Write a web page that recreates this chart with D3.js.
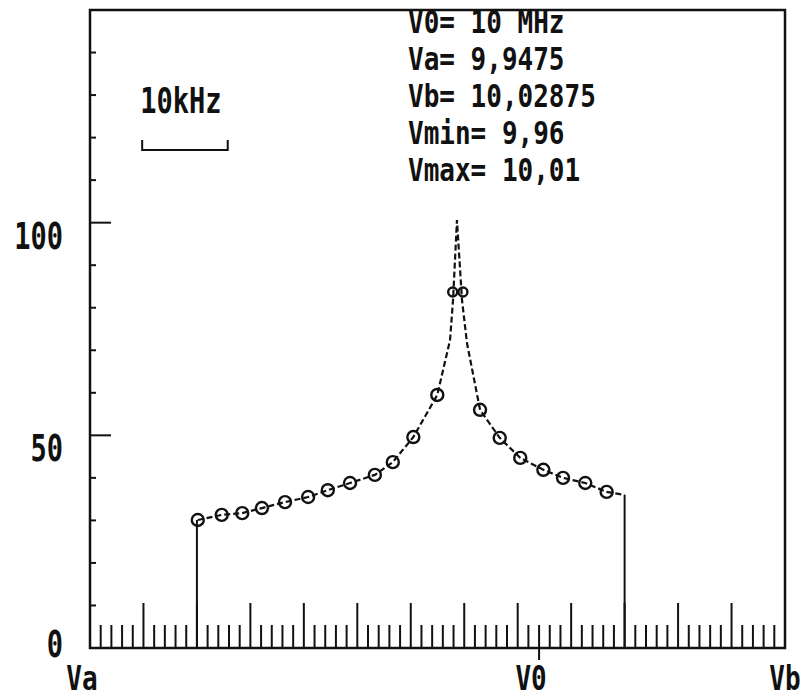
<!DOCTYPE html>
<html>
<head>
<meta charset="utf-8">
<script src="https://cdn.jsdelivr.net/npm/d3@7"></script>
<style>
  body { margin: 0; background: #fff; }
  svg text { font-family: "DejaVu Sans Mono", monospace; font-weight: bold; fill: #111; }
</style>
</head>
<body>
<div id="chart"></div>
<script>
// frequency span (MHz) and value span
const fRange = [9.9475, 10.02875];
const vRange = [0, 150];
const fMin = 9.96, fMax = 10.01, f0 = 10;

// y axis ticks / labels
const yTicks = [0, 10, 20, 30, 40, 50, 60, 70, 80, 90, 100, 110, 120, 130, 140, 150];
const yLabels = [0, 50, 100];

// measured points (circles)
const markFreq = [9.9601, 9.9629, 9.9653, 9.9676, 9.9703, 9.9730, 9.9753, 9.9779, 9.9808, 9.9829, 9.9853, 9.9881,
                  9.9899, 9.9911,
                  9.9931, 9.9954, 9.9978, 10.0005, 10.0028, 10.0054, 10.0079];
const markVal = [30.1, 31.3, 31.7, 32.9, 34.3, 35.5, 37.1, 38.8, 40.7, 43.7, 49.6, 59.5,
                 83.7, 83.7,
                 56.0, 49.4, 44.7, 41.9, 40.0, 38.8, 36.7];

// theory curve (dashed)
const curveFreq = [9.9601, 9.9629, 9.9653, 9.9676, 9.9703, 9.9730, 9.9753, 9.9779, 9.9808, 9.9829, 9.9853, 9.9881,
                   9.98959, 9.98994, 9.9904, 9.99099, 9.99157,
                   9.9931, 9.9954, 9.9978, 10.0005, 10.0028, 10.0054, 10.0079, 10.01];
const curveVal = [30.1, 31.3, 31.7, 32.9, 34.3, 35.5, 37.1, 38.8, 40.7, 43.7, 49.6, 59.5,
                  72.4, 81.8, 100.6, 81.8, 71.7,
                  56.0, 49.4, 44.7, 41.9, 40.0, 38.8, 36.7, 36.0];

const infoLines = ["V0= 10 MHz", "Va= 9,9475", "Vb= 10,02875", "Vmin= 9,96", "Vmax= 10,01"];
const xLabels = [
  { f: 9.9475, text: "Va" },
  { f: 10, text: "V0" },
  { f: 10.02875, text: "Vb" }
];
const scaleBar = [9.9536, 9.9636];

const W = 805, H = 697;
const svg = d3.select("#chart").append("svg").attr("width", W).attr("height", H);

const x = d3.scaleLinear().domain(fRange).range([90, 785]);
const y = d3.scaleLinear().domain(vRange).range([648, 10]);

function label(txt, px, py, anchor, size, sy) {
  svg.append("text")
    .attr("transform", `translate(${px},${py}) scale(1,${sy || 1.3})`)
    .attr("text-anchor", anchor || "start")
    .attr("font-size", size || 26)
    .text(txt);
}

const ink = "#111";

// frame
svg.append("path")
  .attr("d", `M${x(fRange[0])},${y(0)}V${y(150)}H${x(fRange[1])}V${y(0)}Z`)
  .attr("fill", "none").attr("stroke", ink).attr("stroke-width", 2.5);

// y ticks
svg.append("g").selectAll("line").data(yTicks).enter().append("line")
  .attr("x1", x(fRange[0])).attr("x2", d => x(fRange[0]) + (d === 50 || d === 100 ? 21 : 6))
  .attr("y1", d => y(d)).attr("y2", d => y(d))
  .attr("stroke", ink).attr("stroke-width", 2);

yLabels.forEach(v => label(String(v), 63, y(v) + (v === 0 ? 9 : 26), "end", 27, 1.35));

// x ticks: small every 1.25 kHz, tall every 6.25 kHz
const step = 0.00125;
const nTicks = Math.round((fRange[1] - fRange[0]) / step);
const xTicks = d3.range(1, nTicks).map(i => ({ f: fRange[0] + i * step, big: i % 5 === 0 }));
svg.append("g").selectAll("line").data(xTicks).enter().append("line")
  .attr("x1", d => x(d.f)).attr("x2", d => x(d.f))
  .attr("y1", y(0)).attr("y2", d => y(0) - (d.big ? 45 : 23))
  .attr("stroke", ink).attr("stroke-width", 2);

// V0 mark below axis
svg.append("line")
  .attr("x1", x(f0)).attr("x2", x(f0)).attr("y1", y(0)).attr("y2", y(0) + 12)
  .attr("stroke", ink).attr("stroke-width", 2);

xLabels.forEach(d => label(d.text, x(d.f) + (d.text === "Vb" ? 0 : -8), 690, "middle", 26, 1.3));

// limits of the curve (solid verticals)
svg.append("line")
  .attr("x1", x(fMin)).attr("x2", x(fMin)).attr("y1", y(0)).attr("y2", y(curveVal[0]))
  .attr("stroke", ink).attr("stroke-width", 2);
svg.append("line")
  .attr("x1", x(fMax)).attr("x2", x(fMax)).attr("y1", y(0)).attr("y2", y(curveVal[curveVal.length - 1]))
  .attr("stroke", ink).attr("stroke-width", 2);

// dashed curve
const curve = curveFreq.map((f, i) => [f, curveVal[i]]);
svg.append("path")
  .datum(curve)
  .attr("d", d3.line().x(d => x(d[0])).y(d => y(d[1])))
  .attr("fill", "none").attr("stroke", ink).attr("stroke-width", 2.2)
  .attr("stroke-dasharray", "6,3");

// circles
svg.append("g").selectAll("circle").data(markFreq).enter().append("circle")
  .attr("cx", d => x(d)).attr("cy", (d, i) => y(markVal[i]))
  .attr("r", (d, i) => (i === 12 || i === 13) ? 4.5 : 6)
  .attr("fill", "none").attr("stroke", ink).attr("stroke-width", 2.4);

// 10 kHz scale bar
const sb0 = x(scaleBar[0]), sb1 = x(scaleBar[1]);
svg.append("path")
  .attr("d", `M${sb0},140V150H${sb1}V140`)
  .attr("fill", "none").attr("stroke", ink).attr("stroke-width", 2);
label("10kHz", (sb0 + sb1) / 2 - 4, 113, "middle", 27, 1.3);

// parameter block
infoLines.forEach((t, i) => label(t, 408, 33 + i * 37, "start", 26, 1.25));
</script>
</body>
</html>
